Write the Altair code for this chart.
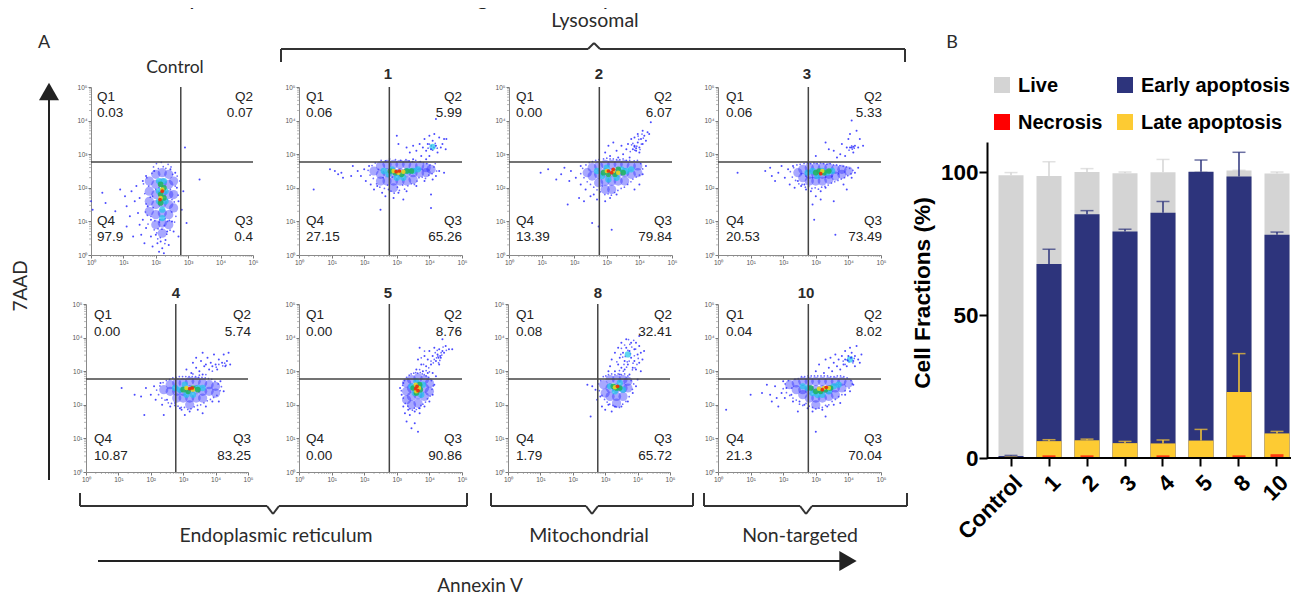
import altair as alt
import pandas as pd

W, H = 1283, 588
M = 8
SANS = "Liberation Sans"
HUM = "Lato"
INK = "#2b2b2b"

# ---- panel A: quadrant percentages (Q1, Q2, Q4, Q3)
Q_CONTROL = ["0.03", "0.07", "97.9", "0.4"]
Q_1 = ["0.06", "5.99", "27.15", "65.26"]
Q_2 = ["0.00", "6.07", "13.39", "79.84"]
Q_3 = ["0.06", "5.33", "20.53", "73.49"]
Q_4 = ["0.00", "5.74", "10.87", "83.25"]
Q_5 = ["0.00", "8.76", "0.00", "90.86"]
Q_8 = ["0.08", "32.41", "1.79", "65.72"]
Q_10 = ["0.04", "8.02", "21.3", "70.04"]
GATE = 590

# ---- flow clouds, as (log10 Annexin V, log10 7AAD)
C_CONTROL = dict(
    blue=[(1.8,2.2),(1.8,1.9),(1.8,1.6),(1.8,1.3),(2.0,2.4),(2.0,2.1),(2.0,1.8),(2.0,1.5),(2.0,1.2),(2.0,0.9),(2.2,2.45),(2.2,2.15),(2.2,1.85),(2.2,1.55),(2.2,1.25),(2.2,0.95),(2.2,0.65),(2.4,2.4),(2.4,2.1),(2.4,1.8),(2.4,1.5),(2.4,1.2),(2.4,0.9),(2.55,2.2),(2.55,1.8),(2.55,1.4)],
    specks=[(1.62,2.12),(1.66,1.83),(1.7,1.52),(1.72,2.3),(1.74,1.18),(1.78,2.05),(1.83,1.72),(1.88,2.43),(1.92,1.41),(1.93,2.62),(1.97,1.02),(2.02,2.72),(2.03,0.66),(2.07,0.78),(2.08,2.57),(2.11,0.98),(2.14,0.52),(2.17,2.76),(2.19,0.77),(2.23,2.63),(2.26,0.88),(2.29,1.08),(2.31,2.58),(2.34,0.62),(2.38,2.7),(2.42,1.03),(2.44,0.74),(2.47,2.62),(2.49,1.28),(2.52,2.4),(2.57,1.58),(2.6,2.05),(2.62,1.15),(2.66,2.35),(2.69,1.78),(1.9,1.75),(2.0,1.95),(2.1,2.0),(2.35,1.65),(2.45,1.95),(2.5,1.65),(1.85,1.15),(1.95,0.75),(2.12,1.05),(2.36,1.0),(2.06,0.48),(2.28,0.34),(1.76,0.92),(2.58,0.98),(1.68,1.28)],
    cyan=[(2.1,2.2),(2.25,2.2),(2.1,1.9),(2.3,1.9),(2.1,1.6),(2.3,1.6),(2.2,1.35),(2.2,1.1)],
    green=[(2.15,2.1),(2.25,2.0),(2.15,1.8),(2.25,1.7),(2.15,1.55)],
    yellow=[(2.2,1.95),(2.15,1.7)],
    red=[(2.2,1.9),(2.13,1.65)],
    dots=[(0.0,1.6),(0.05,1.35),(0.35,1.85),(0.45,1.55),(0.75,1.3),(0.9,1.95),(1.05,1.75),(1.1,1.45),(1.1,0.85),(1.2,1.15),(1.25,1.9),(1.3,0.55),(1.35,1.6),(1.4,2.05),(1.45,1.25),(1.5,0.9),(1.5,1.7),(1.55,0.6),(1.6,2.2),(1.6,1.05),(1.65,0.35),(1.7,2.35),(1.7,0.8),(1.75,1.45),(1.85,0.55),(1.85,1.05),(1.9,0.25),(1.95,2.5),(2.0,0.6),(2.05,0.35),(2.1,0.1),(2.15,0.4),(2.2,0.2),(2.25,0.05),(2.3,0.45),(2.35,0.7),(2.4,0.3),(2.45,2.55),(2.5,1.0),(2.55,0.7),(2.6,2.45),(2.65,2.0),(2.7,1.6),(2.75,2.2),(2.8,1.35),(2.85,1.9),(2.95,0.95),(2.9,3.2),(3.35,2.25),(2.7,0.55)],
)
C_1 = dict(
    blue=[(2.3,2.5),(2.5,2.65),(2.5,2.4),(2.5,2.2),(2.7,2.7),(2.7,2.45),(2.7,2.2),(2.9,2.7),(2.9,2.45),(2.9,2.2),(2.9,2.0),(3.1,2.7),(3.1,2.45),(3.1,2.2),(3.3,2.7),(3.3,2.45),(3.3,2.2),(3.5,2.65),(3.5,2.45),(3.5,2.25),(3.7,2.65),(3.7,2.45),(3.9,2.6),(3.9,2.45),(4.05,2.55)],
    specks=[(2.12,2.52),(2.18,2.38),(2.24,2.66),(2.28,2.28),(2.34,2.74),(2.38,2.12),(2.44,2.55),(2.48,2.02),(2.52,2.82),(2.58,2.3),(2.62,1.98),(2.66,2.8),(2.72,2.08),(2.78,2.86),(2.82,1.9),(2.86,2.32),(2.92,1.84),(2.96,2.84),(3.02,2.02),(3.08,1.92),(3.12,2.82),(3.18,2.08),(3.24,1.96),(3.28,2.84),(3.34,2.06),(3.38,2.8),(3.44,2.12),(3.48,2.78),(3.54,2.1),(3.58,2.82),(3.62,2.2),(3.68,2.3),(3.72,2.78),(3.78,2.32),(3.82,2.74),(3.88,2.28),(3.92,2.72),(3.98,2.38),(4.02,2.68),(4.08,2.42),(4.14,2.62),(4.18,2.72),(4.22,2.5),(4.0,3.3),(4.06,3.25),(4.14,3.2),(4.18,3.32),(4.1,3.12),(3.96,3.18),(4.24,3.18)],
    cyan=[(2.6,2.5),(2.75,2.4),(2.85,2.55),(3.0,2.3),(3.2,2.3),(3.35,2.5),(3.5,2.5),(3.65,2.55),(4.1,3.22)],
    green=[(2.8,2.5),(2.95,2.45),(3.15,2.4),(3.3,2.5),(3.45,2.5)],
    yellow=[(2.9,2.5),(3.05,2.45),(3.2,2.48)],
    red=[(2.98,2.48),(3.08,2.5)],
    dots=[(0.45,1.95),(0.95,2.55),(1.1,2.5),(1.2,2.4),(1.3,2.45),(1.35,2.3),(1.6,2.35),(1.65,2.65),(1.8,2.5),(1.9,2.35),(2.0,2.55),(2.05,2.2),(2.15,2.65),(2.2,2.1),(2.3,1.95),(2.4,2.05),(2.55,1.85),(2.65,1.75),(2.75,1.95),(2.5,1.35),(2.9,1.7),(3.05,1.85),(3.2,1.65),(3.3,1.9),(3.6,2.05),(3.85,2.2),(4.1,2.25),(4.2,2.35),(4.3,2.5),(4.45,2.45),(4.05,1.8),(4.05,1.4),(3.0,3.55),(3.05,3.3),(3.3,3.2),(3.4,3.05),(3.5,3.25),(3.6,3.1),(3.7,3.3),(3.75,2.95),(3.8,3.2),(3.85,3.45),(3.9,3.1),(3.95,3.3),(4.0,3.55),(4.0,2.95),(4.05,3.15),(4.1,3.4),(4.15,3.6),(4.2,3.25),(4.25,3.05),(4.3,3.5),(4.35,3.2),(4.4,3.3),(4.45,3.45),(4.5,3.15),(4.52,3.45),(4.2,4.05),(3.9,2.85),(3.5,2.85)],
)
C_2 = dict(
    blue=[(2.4,2.45),(2.55,2.6),(2.55,2.35),(2.75,2.65),(2.75,2.4),(2.75,2.15),(2.95,2.7),(2.95,2.45),(2.95,2.2),(2.95,1.95),(3.15,2.7),(3.15,2.45),(3.15,2.2),(3.15,1.95),(3.35,2.7),(3.35,2.45),(3.35,2.2),(3.55,2.7),(3.55,2.45),(3.55,2.2),(3.75,2.65),(3.75,2.4),(3.95,2.65),(3.95,2.45)],
    specks=[(2.2,2.42),(2.26,2.58),(2.3,2.3),(2.36,2.68),(2.4,2.18),(2.46,2.75),(2.5,2.1),(2.56,2.78),(2.6,2.02),(2.66,2.82),(2.7,1.94),(2.76,2.84),(2.8,1.88),(2.86,2.06),(2.9,2.86),(2.94,1.8),(3.0,2.88),(3.04,1.82),(3.1,2.86),(3.14,1.78),(3.2,2.86),(3.24,1.86),(3.3,2.84),(3.34,1.92),(3.4,2.84),(3.44,1.98),(3.5,2.86),(3.54,2.02),(3.6,2.82),(3.64,2.1),(3.7,2.82),(3.74,2.18),(3.8,2.26),(3.84,2.8),(3.9,2.32),(3.94,2.82),(4.0,2.38),(4.04,2.72),(4.1,2.56),(3.8,3.32),(3.86,3.12),(3.92,3.24),(3.98,3.44),(4.02,3.14),(4.06,3.3),(3.76,3.28),(4.12,3.48),(3.72,3.08),(4.08,3.6),(3.96,3.54)],
    cyan=[(2.7,2.5),(2.85,2.35),(3.0,2.6),(3.05,2.25),(3.3,2.3),(3.45,2.55),(3.6,2.5),(3.75,2.55)],
    green=[(2.9,2.45),(3.05,2.4),(3.25,2.4),(3.35,2.55),(3.5,2.45)],
    yellow=[(3.0,2.5),(3.2,2.5),(3.35,2.45)],
    red=[(3.05,2.5),(3.15,2.45),(3.2,2.55)],
    dots=[(0.97,2.45),(1.2,2.55),(1.45,2.25),(1.6,2.4),(1.7,2.6),(1.8,1.5),(1.85,2.2),(1.9,2.5),(2.05,2.3),(2.15,1.7),(2.2,2.65),(2.2,2.1),(2.3,1.6),(2.35,1.95),(2.5,1.75),(2.55,0.95),(2.6,1.8),(2.7,1.65),(2.75,0.85),(2.95,1.6),(3.1,1.7),(3.3,1.8),(3.15,0.75),(3.85,1.95),(4.0,2.1),(4.1,2.4),(4.2,2.65),(2.95,3.05),(3.05,3.25),(3.1,2.95),(3.2,3.35),(3.3,3.1),(3.35,2.9),(3.45,3.25),(3.5,3.0),(3.6,3.15),(3.65,3.3),(3.7,2.9),(3.75,3.45),(3.8,3.15),(3.85,3.25),(3.85,3.5),(3.9,3.1),(3.95,3.35),(3.95,3.6),(4.0,3.2),(4.05,3.45),(4.1,3.7),(4.1,3.3),(4.15,3.55),(4.2,3.4),(4.25,3.65),(4.3,3.6),(4.35,3.95),(3.85,3.22),(3.9,3.18),(4.0,3.05)],
)
C_3 = dict(
    blue=[(2.45,2.45),(2.6,2.55),(2.6,2.3),(2.8,2.6),(2.8,2.4),(2.8,2.2),(3.0,2.6),(3.0,2.4),(3.0,2.2),(3.2,2.6),(3.2,2.4),(3.2,2.2),(3.4,2.6),(3.4,2.4),(3.4,2.25),(3.6,2.55),(3.6,2.35),(3.8,2.55),(3.8,2.4),(4.0,2.5)],
    specks=[(2.22,2.48),(2.28,2.32),(2.32,2.6),(2.38,2.22),(2.42,2.68),(2.48,2.12),(2.52,2.7),(2.58,2.1),(2.64,2.72),(2.68,2.02),(2.74,2.74),(2.78,2.04),(2.84,2.72),(2.88,1.98),(2.94,2.74),(2.98,2.0),(3.04,2.72),(3.08,1.96),(3.14,2.74),(3.18,2.02),(3.24,2.72),(3.28,2.04),(3.34,2.7),(3.38,2.08),(3.44,2.72),(3.48,2.14),(3.54,2.68),(3.58,2.18),(3.64,2.68),(3.68,2.22),(3.74,2.66),(3.78,2.26),(3.84,2.64),(3.88,2.3),(3.94,2.62),(3.98,2.36),(4.04,2.58),(4.08,2.42),(4.14,2.52),(2.9,2.3),(3.1,2.3),(3.3,2.32),(3.5,2.35),(3.7,2.42),(2.7,2.35),(2.55,2.42),(4.1,3.25),(4.18,3.18),(4.02,3.12),(4.12,3.15)],
    cyan=[(2.75,2.45),(2.9,2.5),(3.05,2.35),(3.2,2.5),(3.35,2.45),(3.5,2.5)],
    green=[(3.0,2.45),(3.1,2.5),(3.25,2.45),(3.4,2.5)],
    yellow=[(3.2,2.5)],
    red=[(3.15,2.42)],
    dots=[(0.6,2.45),(1.45,2.5),(1.6,2.6),(1.65,2.35),(1.75,2.2),(1.85,2.45),(1.95,2.65),(2.05,2.3),(2.15,2.55),(2.2,2.1),(2.3,2.65),(2.35,2.0),(2.45,2.2),(2.55,2.05),(2.65,2.1),(2.7,1.95),(2.85,1.9),(2.9,1.5),(2.95,1.05),(3.0,1.75),(3.15,1.9),(3.3,2.0),(3.15,1.65),(3.55,1.6),(3.85,2.1),(3.95,1.95),(4.1,2.3),(4.2,2.45),(4.3,2.6),(3.0,2.95),(3.3,3.35),(3.4,3.15),(3.55,3.1),(3.65,2.9),(3.75,3.0),(3.8,3.3),(3.9,2.95),(3.95,3.2),(4.0,3.45),(4.05,3.6),(4.1,3.2),(4.15,3.05),(4.2,3.25),(4.25,3.7),(4.3,3.2),(4.35,3.45),(4.45,3.25),(4.1,4.0),(4.15,3.22),(4.05,3.2),(3.6,0.6)],
)
C_4 = dict(
    blue=[(2.4,2.45),(2.6,2.6),(2.6,2.4),(2.8,2.65),(2.8,2.4),(2.8,2.2),(3.0,2.65),(3.0,2.4),(3.0,2.2),(3.2,2.7),(3.2,2.45),(3.2,2.2),(3.2,2.0),(3.4,2.7),(3.4,2.45),(3.4,2.2),(3.6,2.65),(3.6,2.4),(3.6,2.2),(3.8,2.6),(3.8,2.4),(4.0,2.55),(4.0,2.35)],
    specks=[(2.18,2.44),(2.24,2.3),(2.28,2.56),(2.34,2.2),(2.38,2.66),(2.44,2.14),(2.48,2.72),(2.54,2.06),(2.58,2.76),(2.64,2.04),(2.68,2.8),(2.74,1.98),(2.78,2.82),(2.84,1.96),(2.88,2.84),(2.94,1.92),(2.98,2.84),(3.04,1.92),(3.08,2.84),(3.14,1.86),(3.18,2.84),(3.24,1.88),(3.28,2.84),(3.34,1.94),(3.38,2.84),(3.44,1.98),(3.48,2.82),(3.54,2.0),(3.58,2.82),(3.64,2.06),(3.68,2.8),(3.74,2.12),(3.78,2.78),(3.84,2.16),(3.88,2.76),(3.94,2.22),(3.98,2.7),(4.04,2.28),(4.08,2.62),(4.14,2.42),(4.18,2.54),(3.3,2.92),(3.5,2.88),(3.7,2.9),(3.9,3.0),(4.1,3.2),(4.22,3.16),(4.28,3.24),(4.32,3.18),(4.02,3.12)],
    cyan=[(2.75,2.5),(2.9,2.45),(3.05,2.6),(3.1,2.3),(3.3,2.3),(3.45,2.5),(3.6,2.5)],
    green=[(3.0,2.45),(3.15,2.4),(3.3,2.5),(3.45,2.45)],
    yellow=[(3.1,2.5),(3.3,2.45)],
    red=[(3.2,2.48),(3.28,2.5)],
    dots=[(1.1,2.5),(1.5,2.3),(1.7,2.25),(1.8,1.7),(1.85,2.5),(2.0,2.3),(2.1,2.55),(2.15,2.15),(2.3,2.65),(2.35,2.0),(2.4,1.7),(2.5,2.15),(2.6,1.95),(2.75,2.05),(2.9,1.9),(2.95,1.85),(3.05,1.7),(3.2,1.8),(3.45,1.85),(3.6,1.75),(3.7,1.95),(3.9,2.1),(4.1,2.1),(4.25,2.4),(4.15,2.7),(3.1,3.05),(3.25,2.95),(3.3,3.25),(3.4,3.1),(3.4,3.4),(3.5,3.0),(3.55,3.3),(3.6,3.55),(3.65,3.15),(3.75,3.4),(3.8,3.05),(3.85,3.25),(3.9,3.15),(3.95,3.5),(4.0,3.2),(4.05,3.05),(4.1,3.35),(4.2,3.25),(4.25,3.5),(4.3,3.15),(4.35,3.3),(4.4,3.55),(4.45,3.2),(3.7,3.2),(3.6,2.9)],
)
C_5 = dict(
    blue=[(3.3,2.65),(3.3,2.4),(3.3,2.15),(3.45,2.75),(3.45,2.5),(3.45,2.25),(3.45,2.0),(3.65,2.8),(3.65,2.55),(3.65,2.3),(3.65,2.05),(3.85,2.75),(3.85,2.5),(3.85,2.25),(4.0,2.65),(4.0,2.4)],
    specks=[(3.14,2.42),(3.18,2.58),(3.2,2.2),(3.24,2.72),(3.26,2.04),(3.3,2.82),(3.34,1.96),(3.38,2.88),(3.4,1.88),(3.44,2.92),(3.48,1.84),(3.52,2.94),(3.54,1.9),(3.58,2.96),(3.6,1.86),(3.64,2.94),(3.68,1.9),(3.72,2.96),(3.74,1.98),(3.78,2.92),(3.8,2.02),(3.84,2.9),(3.88,2.08),(3.9,2.86),(3.94,2.18),(3.98,2.82),(4.02,2.26),(4.06,2.72),(4.08,2.46),(4.12,2.56),(3.9,3.02),(3.98,3.1),(4.05,3.3),(4.15,3.35),(4.22,3.4),(4.28,3.25),(4.18,3.55),(4.36,3.55),(4.24,3.62),(4.12,3.25),(4.0,2.98),(3.7,3.05),(3.82,3.2),(3.75,3.4),(3.85,3.6),(4.32,3.32),(4.38,3.48),(4.26,3.45),(4.42,3.72),(4.52,3.62)],
    cyan=[(3.45,2.55),(3.55,2.35),(3.6,2.7),(3.75,2.3),(3.8,2.6)],
    green=[(3.5,2.5),(3.6,2.35),(3.72,2.45),(3.7,2.6)],
    yellow=[(3.58,2.6),(3.68,2.5),(3.6,2.4)],
    red=[(3.62,2.55),(3.65,2.42),(3.58,2.48)],
    dots=[(3.1,2.5),(3.15,2.3),(3.2,2.65),(3.2,1.95),(3.25,1.75),(3.3,1.5),(3.35,1.85),(3.4,1.7),(3.45,1.3),(3.55,1.45),(3.55,1.8),(3.65,1.2),(3.7,1.75),(3.7,1.9),(3.85,1.95),(4.0,2.1),(4.1,2.3),(4.15,2.6),(4.2,2.85),(3.6,3.05),(3.65,3.35),(3.7,3.7),(3.75,3.2),(3.8,3.0),(3.85,3.45),(3.9,3.15),(3.95,2.95),(3.95,3.35),(4.0,3.6),(4.05,3.2),(4.1,3.45),(4.1,2.95),(4.15,3.7),(4.2,3.3),(4.25,3.5),(4.3,3.65),(4.3,3.2),(4.35,3.4),(4.4,3.6),(4.4,3.95),(4.45,3.55),(4.5,3.75),(4.6,3.65),(4.7,3.65),(4.28,3.4),(4.33,3.45)],
)
C_8 = dict(
    blue=[(2.95,2.6),(3.0,2.35),(3.15,2.75),(3.15,2.5),(3.15,2.25),(3.35,2.75),(3.35,2.5),(3.35,2.25),(3.35,2.05),(3.55,2.75),(3.55,2.5),(3.55,2.25),(3.7,2.7),(3.7,2.5)],
    specks=[(2.78,2.62),(2.82,2.42),(2.86,2.72),(2.9,2.28),(2.94,2.84),(2.98,2.16),(3.02,2.86),(3.06,2.08),(3.1,2.9),(3.14,2.02),(3.2,2.92),(3.24,1.98),(3.3,2.9),(3.34,1.94),(3.4,2.92),(3.44,1.92),(3.5,2.9),(3.54,2.02),(3.6,2.92),(3.64,2.1),(3.7,2.86),(3.74,2.24),(3.8,2.72),(3.84,2.46),(3.88,2.62),(3.58,3.2),(3.62,3.44),(3.66,3.12),(3.7,3.62),(3.74,3.3),(3.78,3.52),(3.82,3.72),(3.86,3.24),(3.9,3.46),(3.94,3.66),(3.98,3.2),(4.02,3.38),(3.54,3.42),(3.5,3.68),(3.44,3.02),(3.36,3.28),(3.48,3.5),(3.76,3.8),(3.72,3.94),(3.88,3.92),(3.6,3.78),(3.92,3.1),(3.68,3.28),(3.56,3.0),(3.84,3.04)],
    cyan=[(3.15,2.55),(3.3,2.4),(3.45,2.65),(3.55,2.45),(3.7,3.5)],
    green=[(3.25,2.55),(3.35,2.5),(3.45,2.5)],
    yellow=[(3.3,2.52)],
    red=[(3.38,2.55)],
    dots=[(2.45,2.6),(2.6,2.55),(2.7,2.45),(2.75,2.15),(2.85,2.25),(2.9,1.95),(2.55,1.65),(3.0,1.85),(3.1,2.0),(3.2,1.8),(3.3,1.95),(3.5,1.95),(3.7,2.1),(3.85,2.35),(3.95,2.55),(4.0,2.75),(3.1,3.0),(3.15,3.15),(3.2,3.35),(3.3,3.0),(3.3,3.55),(3.4,3.2),(3.4,3.7),(3.45,2.9),(3.45,3.4),(3.5,3.85),(3.5,3.1),(3.55,3.55),(3.6,3.3),(3.6,3.05),(3.65,3.7),(3.65,3.95),(3.7,3.2),(3.75,2.9),(3.75,3.6),(3.8,3.4),(3.8,3.85),(3.85,3.1),(3.9,3.65),(3.9,3.3),(3.95,3.85),(3.95,3.05),(4.0,3.5),(4.05,3.75),(4.05,3.25),(4.1,3.55),(4.1,3.0),(4.15,3.35),(4.05,4.05),(4.2,3.6)],
)
C_10 = dict(
    blue=[(2.2,2.6),(2.4,2.65),(2.4,2.45),(2.6,2.7),(2.6,2.45),(2.6,2.3),(2.8,2.7),(2.8,2.45),(2.8,2.2),(3.0,2.7),(3.0,2.45),(3.0,2.2),(3.0,2.0),(3.2,2.7),(3.2,2.45),(3.2,2.2),(3.4,2.7),(3.4,2.45),(3.4,2.25),(3.6,2.7),(3.6,2.5),(3.6,2.3),(3.8,2.7),(3.8,2.5),(4.0,2.65)],
    specks=[(2.0,2.48),(2.06,2.62),(2.1,2.36),(2.16,2.72),(2.2,2.28),(2.26,2.5),(2.3,2.2),(2.36,2.76),(2.4,2.14),(2.46,2.78),(2.5,2.02),(2.56,2.84),(2.6,1.98),(2.66,2.84),(2.7,2.04),(2.76,2.86),(2.8,1.96),(2.86,2.86),(2.9,1.92),(2.96,2.86),(3.0,1.88),(3.06,2.86),(3.1,1.9),(3.16,2.86),(3.2,1.92),(3.26,2.86),(3.3,1.98),(3.36,2.86),(3.4,2.0),(3.46,2.84),(3.5,2.1),(3.56,2.84),(3.6,2.16),(3.66,2.86),(3.7,2.24),(3.76,2.86),(3.8,2.3),(3.86,2.84),(3.9,2.42),(3.96,2.8),(4.02,2.5),(4.08,2.72),(4.12,2.62),(3.96,3.34),(4.02,3.28),(4.1,3.42),(4.14,3.25),(3.9,3.2),(4.18,3.38),(3.84,3.3)],
    cyan=[(2.6,2.55),(2.75,2.5),(2.9,2.35),(3.05,2.3),(3.2,2.3),(3.4,2.4),(3.55,2.55),(3.7,2.6),(4.05,3.35)],
    green=[(2.85,2.5),(3.0,2.4),(3.15,2.4),(3.3,2.45),(3.45,2.5)],
    yellow=[(3.1,2.48),(3.25,2.5),(3.4,2.5)],
    red=[(3.2,2.45),(3.32,2.52)],
    dots=[(0.25,1.85),(1.0,2.3),(1.35,2.35),(1.5,2.6),(1.6,2.3),(1.65,2.1),(1.75,2.55),(1.8,2.2),(1.85,1.95),(1.95,2.35),(2.0,2.7),(2.05,2.2),(2.1,2.5),(2.25,2.3),(2.3,2.1),(2.45,1.8),(2.5,2.1),(2.65,2.0),(2.75,1.9),(2.9,1.8),(3.0,1.2),(3.2,1.85),(3.35,1.95),(3.3,1.65),(3.55,2.0),(3.75,2.05),(3.9,2.3),(4.05,2.4),(4.15,2.6),(3.0,3.0),(3.1,3.2),(3.25,2.95),(3.3,3.35),(3.4,3.1),(3.45,3.4),(3.5,3.0),(3.55,3.25),(3.6,3.5),(3.65,3.15),(3.7,3.35),(3.75,3.05),(3.8,3.45),(3.85,3.2),(3.9,3.6),(3.9,3.35),(3.95,3.15),(4.0,3.45),(4.05,3.7),(4.1,3.55),(4.15,3.3),(4.2,3.15),(4.2,3.45),(4.25,3.75),(4.3,3.35),(4.35,3.25),(4.4,3.5),(3.98,3.32),(4.08,3.4)],
)
LEVELS = [
    ("blue", "#1a1aff", 85, 0.38),
    ("specks", "#2a2aff", 3, 0.7),
    ("cyan", "#20c4ea", 40, 0.7),
    ("green", "#20b45a", 32, 0.85),
    ("yellow", "#e6d620", 20, 0.9),
    ("red", "#e8300f", 14, 0.95),
]

# ---- panel B: cumulative tops of the stacked fractions and their error caps
CATS = ["Control", "1", "2", "3", "4", "5", "8", "10"]
LIVE = [98.9, 98.6, 100.0, 99.6, 99.9, 100.0, 100.5, 99.5]
LIVE_ERR = [99.8, 103.6, 101.2, 100.0, 104.4, 100.1, 100.6, 100.0]
EARLY = [0.7, 67.8, 85.2, 79.2, 85.8, 100.1, 98.4, 78.1]
EARLY_ERR = [0.9, 73.0, 86.5, 80.0, 89.7, 104.2, 106.9, 79.0]
LATE = [0.2, 5.9, 6.2, 5.2, 5.1, 6.1, 23.1, 8.6]
LATE_ERR = [0.3, 6.4, 6.6, 5.8, 6.3, 10.0, 36.5, 9.3]
NECROSIS = [None, 0.4, 0.4, None, 0.4, None, 0.4, 0.8]
GREY, NAVY, YELLOW, RED = "#d4d4d4", "#2d347c", "#fdcb33", "#ff0000"

TICKS = [1, 10, 100, 1000, 10000, 100000]
MINOR = [m * 10 ** k for k in range(5) for m in range(2, 10)]
SUP = "'10' + ['⁰','¹','²','³','⁴','⁵'][round(log(datum.value)/LN10)]"


def text(x, y, s, size=15, font=HUM, weight="normal", align="center", color=INK, angle=0):
    return alt.Chart().mark_text(
        fontSize=size, font=font, fontWeight=weight, align=align, baseline="middle",
        color=color, angle=angle,
    ).encode(x=alt.value(x - M), y=alt.value(y - M), text=alt.value(s))


def seg(x1, y1, x2, y2, width=2, color="#333333"):
    return alt.Chart().mark_rule(strokeWidth=width, color=color).encode(
        x=alt.value(x1 - M), y=alt.value(y1 - M), x2=alt.value(x2 - M), y2=alt.value(y2 - M)
    )


def panel(x0, x1, y0, y1, q, cloud, qleft, qright, qy):
    sx = alt.Scale(type="log", domain=[1, 100000], range=[x0 - M, x1 - M], nice=False)
    sy = alt.Scale(type="log", domain=[1, 100000], range=[y1 - M, y0 - M], nice=False)
    ax = dict(grid=False, values=TICKS, labelExpr=SUP, labelFontSize=6.5, labelColor="#555555",
              labelFont=SANS, domainColor="#8a8a8a", tickColor="#777777", tickSize=3,
              labelPadding=1, labelOverlap=False, labelFlush=False, title=None)
    xaxis = alt.Axis(orient="bottom", offset=(y1 - M) - H, **ax)
    yaxis = alt.Axis(orient="left", offset=-(x0 - M), **ax)
    dots = pd.DataFrame({"x": [10 ** a for a, _ in cloud["dots"]], "y": [10 ** b for _, b in cloud["dots"]]})
    PX = alt.X("x:Q", scale=sx, axis=xaxis)
    PY = alt.Y("y:Q", scale=sy, axis=yaxis)
    VX = alt.X("v:Q", scale=sx, axis=xaxis)
    VY = alt.Y("v:Q", scale=sy, axis=yaxis)
    layers = []
    for name, color, size, op in LEVELS:
        df = pd.DataFrame({"x": [10 ** a for a, _ in cloud[name]], "y": [10 ** b for _, b in cloud[name]]})
        layers.append(alt.Chart(df).mark_circle(size=size, color=color, opacity=op).encode(x=PX, y=PY))
    layers.append(alt.Chart(dots).mark_circle(size=4, color="#2a2aff", opacity=0.85).encode(x=PX, y=PY))
    minor = pd.DataFrame({"v": MINOR})
    layers.append(alt.Chart(minor).mark_rule(color="#8a8a8a", strokeWidth=0.6).encode(
        x=VX, y=alt.value(y1 - M), y2=alt.value(y1 - M + 2)))
    layers.append(alt.Chart(minor).mark_rule(color="#8a8a8a", strokeWidth=0.6).encode(
        y=VY, x=alt.value(x0 - M), x2=alt.value(x0 - M - 2)))
    gate = pd.DataFrame({"v": [GATE]})
    layers.append(alt.Chart(gate).mark_rule(color="#444444", strokeWidth=1.5).encode(
        x=VX, y=alt.value(y0 - M), y2=alt.value(y1 - M)))
    layers.append(alt.Chart(gate).mark_rule(color="#444444", strokeWidth=1.5).encode(
        y=VY, x=alt.value(x0 - M), x2=alt.value(x1 - M)))
    names = ["Q1", "Q2", "Q4", "Q3"]
    ypos = [(qy[0], qy[1]), (qy[0], qy[1]), (qy[2], qy[3]), (qy[2], qy[3])]
    for i in range(4):
        xx = qleft if i in (0, 2) else qright
        al = "left" if i in (0, 2) else "right"
        layers.append(text(xx, ypos[i][0], names[i], 13.5, SANS, align=al, color="#222222"))
        layers.append(text(xx, ypos[i][1], q[i], 13.5, SANS, align=al, color="#222222"))
    return alt.layer(*layers)


R1 = (87, 255, (97, 113, 221, 237))
R2 = (304, 472, (315, 332, 439, 456))
panels = [
    panel(91, 253, R1[0], R1[1], Q_CONTROL, C_CONTROL, 97, 253, R1[2]),
    panel(299, 462, R1[0], R1[1], Q_1, C_1, 306, 462, R1[2]),
    panel(509, 672, R1[0], R1[1], Q_2, C_2, 516, 672, R1[2]),
    panel(718, 881, R1[0], R1[1], Q_3, C_3, 726, 882, R1[2]),
    panel(86, 248, R2[0], R2[1], Q_4, C_4, 94, 251, R2[2]),
    panel(299, 462, R2[0], R2[1], Q_5, C_5, 306, 462, R2[2]),
    panel(508, 670, R2[0], R2[1], Q_8, C_8, 516, 672, R2[2]),
    panel(718, 881, R2[0], R2[1], Q_10, C_10, 726, 882, R2[2]),
]

# ---- stacked bars
bars = pd.DataFrame({
    "cat": CATS, "live": LIVE, "live_err": LIVE_ERR, "early": EARLY, "early_err": EARLY_ERR,
    "late": LATE, "late_err": LATE_ERR, "necrosis": NECROSIS,
})
bx = alt.Scale(domain=CATS, range=[981, 1291], paddingInner=0.342, paddingOuter=0.25)
by = alt.Scale(domain=[0, 110.5], range=[458 - M, 142 - M], nice=False)
xax = alt.Axis(orient="bottom", offset=(458 - M) - H, domain=False, tickColor="black", tickWidth=2, tickSize=8,
               labelAngle=-45, labelFont=SANS, labelFontWeight="bold", labelFontSize=22.5, labelColor="black",
               labelPadding=5, title=None, grid=False, labelOverlap=False)
yax = alt.Axis(orient="left", offset=-(987 - M), values=[0, 50, 100], domainColor="black", domainWidth=2,
               tickColor="black", tickWidth=2, tickSize=8, labelFont=SANS, labelFontWeight="bold",
               labelFontSize=22.5, labelColor="black", labelPadding=1, title=None, grid=False)
X = alt.X("cat:N", scale=bx, axis=xax)


def Y(f):
    return alt.Y(f"{f}:Q", scale=by, axis=yax)


def whisker(top, err, color):
    return [
        alt.Chart(bars).mark_rule(color=color, strokeWidth=1.5).encode(x=X, y=Y(top), y2=alt.Y2(err)),
        alt.Chart(bars).mark_tick(color=color, thickness=1.5, size=13).encode(x=X, y=Y(err)),
    ]


bar_layers = [
    alt.Chart(bars).mark_bar(color=GREY).encode(x=X, y=Y("live")),
    *whisker("live", "live_err", GREY),
    alt.Chart(bars).mark_bar(color=NAVY).encode(x=X, y=Y("early")),
    *whisker("early", "early_err", NAVY),
    alt.Chart(bars).mark_bar(color=YELLOW).encode(x=X, y=Y("late")),
    *whisker("late", "late_err", YELLOW),
    alt.Chart(bars).mark_tick(color=RED, thickness=3, size=13).transform_filter("datum.necrosis != null").encode(
        x=X, y=Y("necrosis")),
]
bar_chart = alt.layer(*bar_layers)

# ---- legend of panel B
LEGEND = [("Live", GREY, 1002, 85), ("Early apoptosis", NAVY, 1125, 85), ("Necrosis", RED, 1002, 122), ("Late apoptosis", YELLOW, 1125, 122)]
legend_layers = []
for label, color, lx, ly in LEGEND:
    legend_layers.append(alt.Chart().mark_square(color=color, size=256, opacity=1).encode(
        x=alt.value(lx - M), y=alt.value(ly - M)))
    legend_layers.append(text(lx + 16, ly + 1, label, 20, SANS, "bold", "left", "black"))


def bracket(xa, xb, xc, ytip, ybar, yend, half):
    return [
        seg(xa, yend, xa, ybar), seg(xa, ybar, xc - half, ybar), seg(xc - half, ybar, xc, ytip),
        seg(xc, ytip, xc + half, ybar), seg(xc + half, ybar, xb, ybar), seg(xb, ybar, xb, yend),
    ]


anno = [
    text(15, -2, "correlated to the presence of the union binding area moiety.", 23, HUM, align="left", color="#222222"),
    text(44, 43, "A", 18), text(952, 43, "B", 18),
    text(175, 68, "Control", 17.5),
    text(388, 74, "1", 15, SANS, "bold"), text(599, 74, "2", 15, SANS, "bold"), text(807, 74, "3", 15, SANS, "bold"),
    text(176, 293, "4", 15, SANS, "bold"), text(388, 293, "5", 15, SANS, "bold"),
    text(598, 293, "8", 15, SANS, "bold"), text(806, 293, "10", 15, SANS, "bold"),
    text(595, 21, "Lysosomal", 19.5),
    text(276, 536, "Endoplasmic reticulum", 19.5), text(589, 536, "Mitochondrial", 19.5),
    text(800, 536, "Non-targeted", 19.5), text(480, 586, "Annexin V", 19),
    text(21, 286, "7AAD", 19, angle=270),
    text(923, 293, "Cell Fractions (%)", 22.7, SANS, "bold", color="black", angle=270),
    *bracket(281, 905, 594, 43, 49, 62, 6),
    *bracket(80, 467, 273, 514, 506, 493, 6),
    *bracket(491, 693, 592, 514, 506, 493, 6),
    *bracket(704, 907, 806, 514, 506, 493, 6),
    seg(49, 95, 49, 480, 2, "#222222"),
    seg(98, 561, 842, 561, 2, "#222222"),
    alt.Chart().mark_point(shape="triangle-up", filled=True, size=400, color="#222222", opacity=1).encode(
        x=alt.value(49 - M), y=alt.value(91.5 - M)),
    alt.Chart().mark_point(shape="triangle-right", filled=True, size=400, color="#222222", opacity=1).encode(
        x=alt.value(848 - M), y=alt.value(561 - M)),
    seg(987, 458, 1291, 458, 2, "black"),
]

chart = alt.layer(*panels, bar_chart, *legend_layers, *anno).resolve_scale(
    x="independent", y="independent"
).properties(
    width=W, height=H, padding=0, autosize=alt.AutoSizeParams(type="none"), background="white"
).configure_view(stroke=None)

chart.save("out.html", embed_options={"renderer": "svg", "actions": False})
